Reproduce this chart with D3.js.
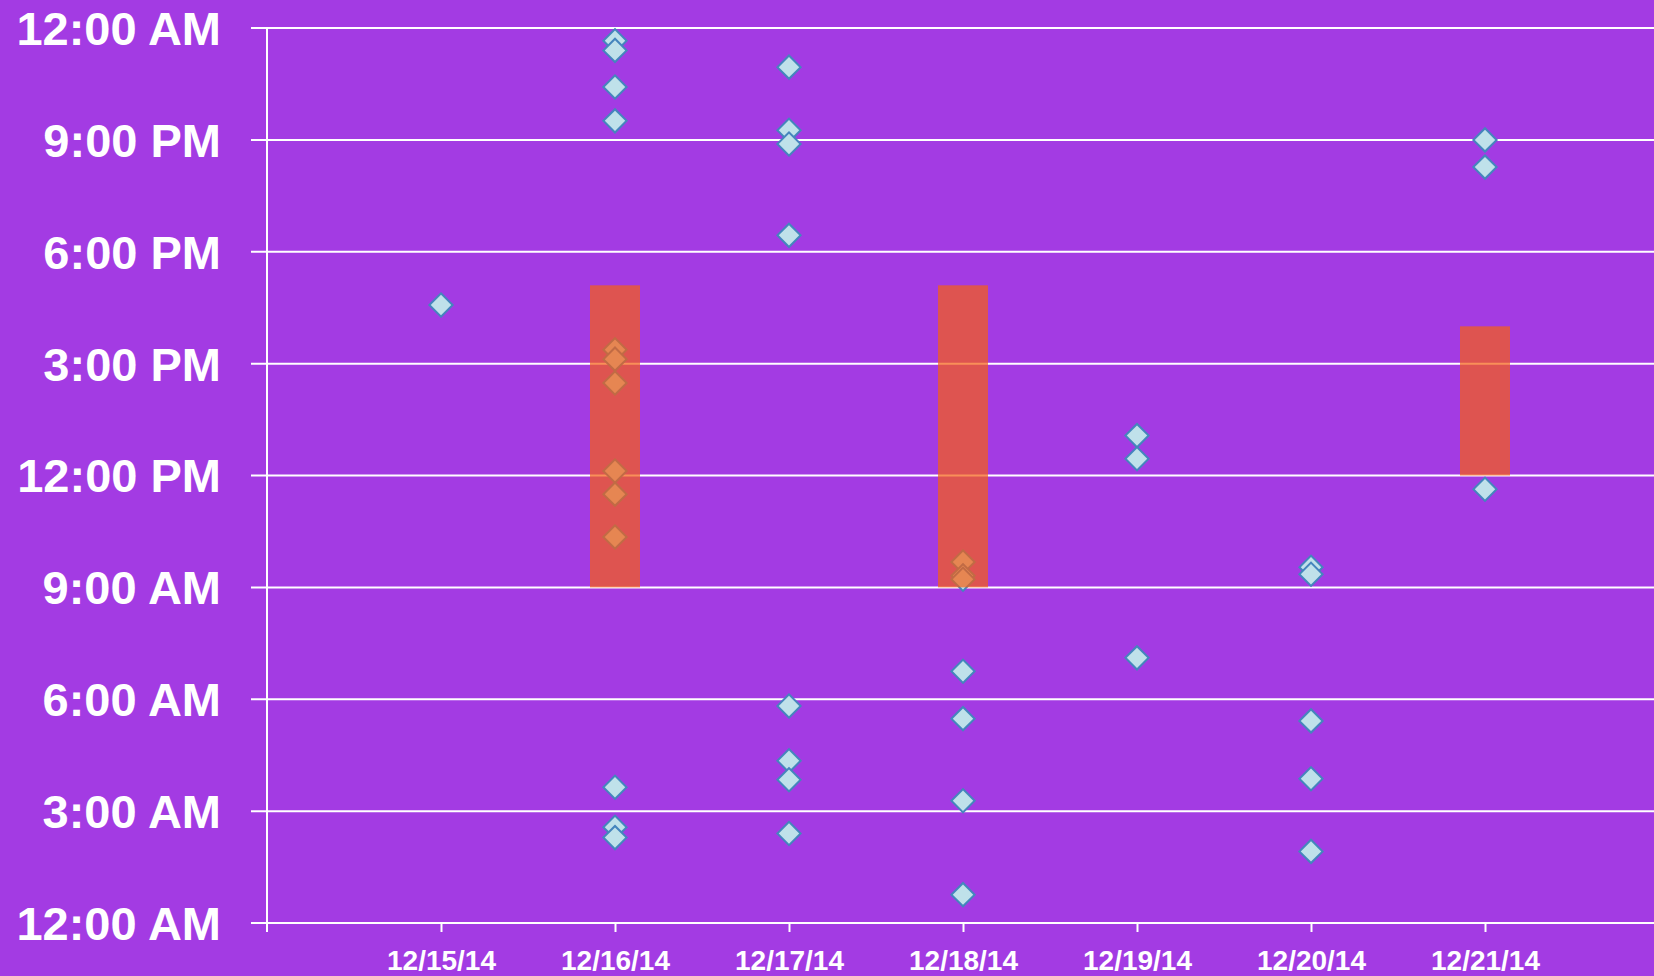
<!DOCTYPE html>
<html>
<head>
<meta charset="utf-8">
<script src="https://cdn.jsdelivr.net/npm/d3@7"></script>
<style>
  html, body { margin: 0; padding: 0; background: #a33be3; }
  svg { display: block; }
</style>
</head>
<body>
<div id="chart"></div>
<script>
// Canvas size
const width = 1654;
const height = 976;

// Days on the x axis
const days = ["12/15/14", "12/16/14", "12/17/14", "12/18/14", "12/19/14", "12/20/14", "12/21/14"];

// Event times per day, in hours after midnight
const times = [
    [16.57],
    [23.66, 23.40, 22.42, 21.51, 15.37, 15.12, 14.48, 12.12, 11.50, 10.35, 3.64, 2.57, 2.29],
    [22.95, 21.26, 20.89, 18.44, 5.82, 4.35, 3.84, 2.40],
    [9.68, 9.31, 9.22, 6.75, 5.48, 3.28, 0.76],
    [13.07, 12.45, 7.11],
    [9.54, 9.35, 5.42, 3.87, 1.92],
    [21.0, 20.27, 11.63]
];

// Bars (start / end hour), null where there is none
const barStart = [null, 9.0, null, 9.0, null, null, 12.0];
const barEnd = [null, 17.1, null, 17.1, null, null, 16.0];

// Y tick labels, one for every 3 hours
const hourTicks = [0, 3, 6, 9, 12, 15, 18, 21, 24];
const hourLabels = ["12:00 AM", "3:00 AM", "6:00 AM", "9:00 AM", "12:00 PM", "3:00 PM", "6:00 PM", "9:00 PM", "12:00 AM"];

const svg = d3.select("#chart")
    .append("svg")
    .attr("width", width)
    .attr("height", height);

svg.append("rect")
    .attr("width", width)
    .attr("height", height)
    .attr("fill", "#a33be3");

// Scales
const x = d3.scaleLinear()
    .domain([-1, days.length])
    .range([267, 1659]);

const y = d3.scaleLinear()
    .domain([0, 24])
    .range([923, 28]);

// Gridlines
svg.append("g")
    .selectAll("line")
    .data(hourTicks)
    .join("line")
    .attr("x1", 251)
    .attr("x2", width)
    .attr("y1", d => y(d))
    .attr("y2", d => y(d))
    .attr("stroke", "white")
    .attr("stroke-width", 2);

// Y axis line
svg.append("line")
    .attr("x1", x(-1))
    .attr("x2", x(-1))
    .attr("y1", y(24))
    .attr("y2", y(0) + 9)
    .attr("stroke", "white")
    .attr("stroke-width", 2);

// Y labels
svg.append("g")
    .selectAll("text")
    .data(hourTicks)
    .join("text")
    .attr("x", 221)
    .attr("y", d => y(d))
    .attr("dy", "0.36em")
    .attr("text-anchor", "end")
    .attr("fill", "white")
    .attr("font-family", "Liberation Sans, Arial, sans-serif")
    .attr("font-weight", "bold")
    .attr("font-size", 47)
    .text((d, i) => hourLabels[i]);

// X axis
const xAxis = svg.append("g")
    .attr("transform", `translate(0, ${y(0)})`)
    .call(d3.axisBottom(x)
        .tickValues(d3.range(days.length))
        .tickFormat(i => days[i])
        .tickSize(9)
        .tickPadding(18));

xAxis.select(".domain").remove();
xAxis.selectAll(".tick line")
    .attr("stroke", "white")
    .attr("stroke-width", 2);
xAxis.selectAll(".tick text")
    .attr("fill", "white")
    .attr("font-family", "Liberation Sans, Arial, sans-serif")
    .attr("font-weight", "bold")
    .attr("font-size", 28);

// Diamonds
const points = times.flatMap((list, i) => list.map(t => ({ day: i, t: t })));
const diamond = d3.symbol(d3.symbolSquare, 270);

svg.append("g")
    .selectAll("path")
    .data(points)
    .join("path")
    .attr("d", diamond)
    .attr("transform", d => `translate(${x(d.day)}, ${y(d.t)}) rotate(45)`)
    .attr("fill", "#bfe1ea")
    .attr("stroke", "#4585bd")
    .attr("stroke-width", 2);

// Bars, drawn over the points with some transparency
const bars = days.map((d, i) => ({ day: i, start: barStart[i], end: barEnd[i] }))
    .filter(d => d.start !== null);

svg.append("g")
    .selectAll("rect")
    .data(bars)
    .join("rect")
    .attr("x", d => x(d.day) - 25)
    .attr("width", 50)
    .attr("y", d => y(d.end))
    .attr("height", d => y(d.start) - y(d.end))
    .attr("fill", "#f66011")
    .attr("fill-opacity", 0.7);
</script>
</body>
</html>
